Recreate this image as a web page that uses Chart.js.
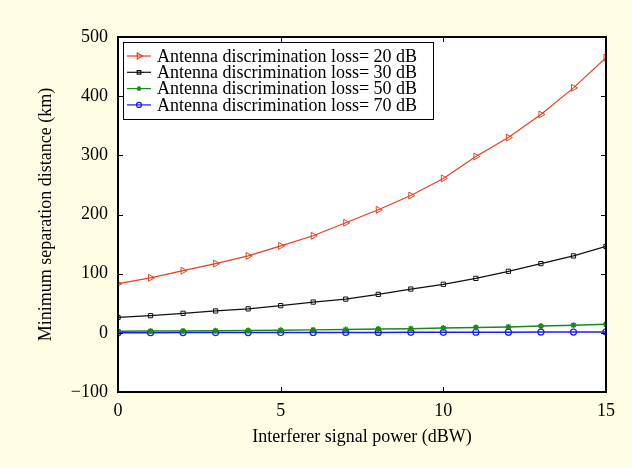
<!DOCTYPE html>
<html>
<head>
<meta charset="utf-8">
<script src="https://cdn.jsdelivr.net/npm/chart.js@4"></script>
<style>
  html, body { margin: 0; padding: 0; background: #fffde3; }
  #wrap { width: 632px; height: 468px; }
</style>
</head>
<body>
<div id="wrap"><canvas id="myChart" width="632" height="468"></canvas></div>
<script>
const power = [0, 1, 2, 3, 4, 5, 6, 7, 8, 9, 10, 11, 12, 13, 14, 15];
const loss20 = [83, 93, 105, 117, 130, 147, 164, 186, 208, 232, 261, 298, 330, 369, 414, 465];
const loss30 = [26, 29, 33, 37, 40.5, 46, 52, 57, 65, 74, 82, 92, 104, 117, 130, 146];
const loss50 = [2.5, 3, 3.2, 3.5, 4, 4.5, 5, 5.5, 6.5, 7, 8, 9, 10, 11.5, 13, 14.5];
const loss70 = [0.3, 0.35, 0.4, 0.45, 0.5, 0.55, 0.6, 0.7, 0.75, 0.8, 0.9, 1, 1.1, 1.2, 1.35, 1.5];
const xTicks = [0, 5, 10, 15];
const yTicks = [-100, 0, 100, 200, 300, 400, 500];

const FONT = '"Liberation Serif", "Times New Roman", serif';

const pts = arr => arr.map((v, i) => ({ x: power[i], y: v }));

// frame + inward ticks on all four sides, and the boxed legend in the top left
const framePlugin = {
    id: 'frame',
    beforeDraw(chart) {
        const { ctx, chartArea: a } = chart;
        ctx.save();
        ctx.fillStyle = '#fffde3';
        ctx.fillRect(0, 0, chart.width, chart.height);
        ctx.fillStyle = '#ffffff';
        ctx.fillRect(a.left, a.top, a.right - a.left, a.bottom - a.top);
        ctx.restore();
    },
    afterDraw(chart) {
        const { ctx, chartArea: a, scales } = chart;
        ctx.save();
        ctx.strokeStyle = '#000';
        ctx.lineWidth = 1;
        const t = 5;
        ctx.beginPath();
        xTicks.forEach(v => {
            const px = Math.round(scales.x.getPixelForValue(v)) + 0.5;
            ctx.moveTo(px, a.bottom); ctx.lineTo(px, a.bottom - t);
            ctx.moveTo(px, a.top); ctx.lineTo(px, a.top + t);
        });
        yTicks.forEach(v => {
            const py = Math.round(scales.y.getPixelForValue(v)) + 0.5;
            ctx.moveTo(a.left, py); ctx.lineTo(a.left + t, py);
            ctx.moveTo(a.right, py); ctx.lineTo(a.right - t, py);
        });
        ctx.stroke();
        ctx.lineWidth = 2;
        ctx.strokeRect(a.left, a.top, a.right - a.left, a.bottom - a.top);

        // legend
        const lx = a.left + 5, ly = a.top + 5, lw = 310, lh = 77;
        ctx.fillStyle = '#fff';
        ctx.fillRect(lx, ly, lw, lh);
        ctx.lineWidth = 1;
        ctx.strokeStyle = '#000';
        ctx.strokeRect(lx + 0.5, ly + 0.5, lw, lh);
        ctx.font = '18px ' + FONT;
        ctx.textBaseline = 'middle';
        chart.data.datasets.forEach((ds, i) => {
            const yy = ly + 14 + i * 16.3;
            ctx.strokeStyle = ds.borderColor;
            ctx.lineWidth = 1.2;
            ctx.beginPath();
            ctx.moveTo(lx + 4, yy); ctx.lineTo(lx + 28, yy);
            ctx.stroke();
            ctx.fillStyle = ds.backgroundColor;
            Chart.helpers.drawPoint(ctx, {
                pointStyle: ds.pointStyle, radius: ds.pointRadius - 0.5, rotation: ds.pointRotation || 0,
                borderWidth: 1
            }, lx + 16, yy);
            ctx.fillStyle = '#000';
            ctx.fillText(ds.label, lx + 34, yy + 1);
        });
        ctx.restore();
    }
};

new Chart(document.getElementById('myChart'), {
    type: 'line',
    data: {
        datasets: [
            {
                label: 'Antenna discrimination loss= 20 dB',
                data: pts(loss20),
                borderColor: '#e8401c',
                backgroundColor: 'rgba(0,0,0,0)',
                pointStyle: 'triangle',
                pointRotation: 90,
                pointRadius: 4,
                pointBorderWidth: 1,
                borderWidth: 1.2
            },
            {
                label: 'Antenna discrimination loss= 30 dB',
                data: pts(loss30),
                borderColor: '#111111',
                backgroundColor: 'rgba(0,0,0,0)',
                pointStyle: 'rect',
                pointRadius: 3,
                pointBorderWidth: 1,
                borderWidth: 1.2
            },
            {
                label: 'Antenna discrimination loss= 50 dB',
                data: pts(loss50),
                borderColor: '#1a8a1a',
                backgroundColor: '#1a8a1a',
                pointStyle: 'star',
                pointRadius: 3,
                pointBorderWidth: 1.5,
                borderWidth: 1.5
            },
            {
                label: 'Antenna discrimination loss= 70 dB',
                data: pts(loss70),
                borderColor: '#1a1aff',
                backgroundColor: 'rgba(0,0,0,0)',
                pointStyle: 'circle',
                pointRadius: 3,
                pointBorderWidth: 1.2,
                borderWidth: 1.5
            }
        ]
    },
    options: {
        responsive: false,
        animation: false,
        layout: { padding: { top: 37, right: 26, left: 35, bottom: 0 } },
        plugins: {
            legend: { display: false },
            tooltip: { enabled: false }
        },
        scales: {
            x: {
                type: 'linear',
                min: 0, max: 15,
                afterFit: s => { s.height = 76; },
                afterBuildTicks: s => { s.ticks = xTicks.map(v => ({ value: v })); },
                grid: { display: false, drawTicks: false },
                border: { display: false },
                ticks: { color: '#000', font: { family: FONT, size: 18 }, padding: 8, maxRotation: 0 },
                title: {
                    display: true,
                    text: 'Interferer signal power (dBW)',
                    color: '#000',
                    font: { family: FONT, size: 18 },
                    padding: { top: 4, bottom: 20 }
                }
            },
            y: {
                min: -100, max: 500,
                afterFit: s => { s.width = 83; },
                afterBuildTicks: s => { s.ticks = yTicks.map(v => ({ value: v })); },
                grid: { display: false, drawTicks: false },
                border: { display: false },
                ticks: {
                    color: '#000', font: { family: FONT, size: 18 }, padding: 10,
                    callback: v => v < 0 ? '\u2212' + Math.abs(v) : v
                },
                title: {
                    display: true,
                    text: 'Minimum separation distance (km)',
                    color: '#000',
                    font: { family: FONT, size: 18 },
                    padding: { top: 0, bottom: 0 }
                }
            }
        }
    },
    plugins: [framePlugin]
});
</script>
</body>
</html>
